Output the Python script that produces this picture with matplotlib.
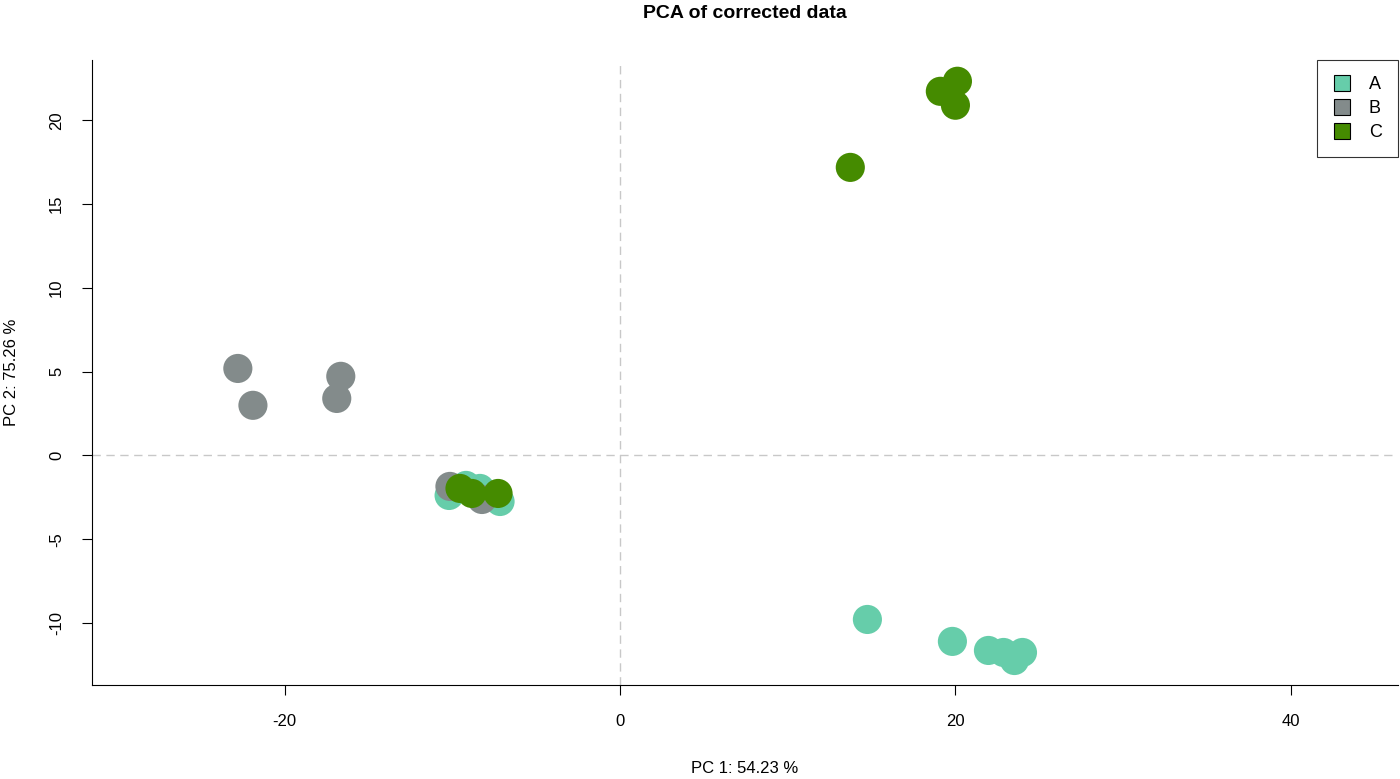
import matplotlib
matplotlib.use("Agg")
from matplotlib import pyplot as plt

plt.rcParams['font.family'] = ['Liberation Sans', 'DejaVu Sans']
plt.rcParams['axes.unicode_minus'] = False

# PCA coordinates per group
a_x = [-10.2, -9.19, -8.36, -7.16, 14.75, 19.82, 21.97, 22.87, 23.52, 24.0]
a_y = [-2.39, -1.79, -1.97, -2.75, -9.79, -11.1, -11.64, -11.76, -12.24, -11.76]
b_x = [-22.8, -21.9, -16.66, -16.9, -10.15, -8.24]
b_y = [5.19, 2.99, 4.72, 3.4, -1.85, -2.63]
c_x = [13.73, 19.1, 20.12, 20.0, -9.55, -8.84, -7.28]
c_y = [17.19, 21.73, 22.33, 20.9, -1.97, -2.27, -2.27]

groups = ["A", "B", "C"]
colors = ["#66CDAA", "#838B8B", "#458B00"]

fig = plt.figure(figsize=(14, 7.79), dpi=100)
ax = fig.add_axes([0.0657, 0.1207, 0.9329, 0.8023])

ax.axvline(0, color="#c8c8c8", linestyle=(0, (6, 4)), linewidth=1, zorder=1)
ax.axhline(0, color="#c8c8c8", linestyle=(0, (6, 4)), linewidth=1, zorder=1)

for xs, ys, col, lab in zip([a_x, b_x, c_x], [a_y, b_y, c_y], colors, groups):
    ax.scatter(xs, ys, s=440, color=col, edgecolors="none", label=lab, zorder=2)

ax.set_xlim(-31.5, 46.4)
ax.set_ylim(-13.7, 23.6)
ax.set_xticks([-20, 0, 20, 40])
ax.set_yticks([-10, -5, 0, 5, 10, 15, 20])
ax.tick_params(labelsize=12, length=7, width=0.8)
ax.tick_params(axis="x", pad=14)
ax.tick_params(axis="y", pad=13)
for lbl in ax.get_yticklabels():
    lbl.set_rotation(90)
    lbl.set_va("center")
ax.spines['top'].set_visible(False)
ax.spines['right'].set_visible(False)

ax.set_xlabel("PC 1: 54.23 %", fontsize=12, labelpad=23)
ax.set_ylabel("PC 2: 75.26 %", fontsize=12, labelpad=22)
ax.set_title("PCA of corrected data", fontsize=14, fontweight="bold", pad=30)

handles = [plt.Line2D([], [], marker="s", linestyle="none", markersize=11,
                      markerfacecolor=c, markeredgecolor="black", markeredgewidth=0.8)
           for c in colors]
leg = ax.legend(handles, groups, loc="upper right", fontsize=13, frameon=True,
                fancybox=False, edgecolor="black", borderaxespad=0,
                handletextpad=1.0, labelspacing=0.38, borderpad=0.9,
                handlelength=1.0)
leg.get_frame().set_linewidth(0.8)

fig.savefig("out.png", dpi=100)
